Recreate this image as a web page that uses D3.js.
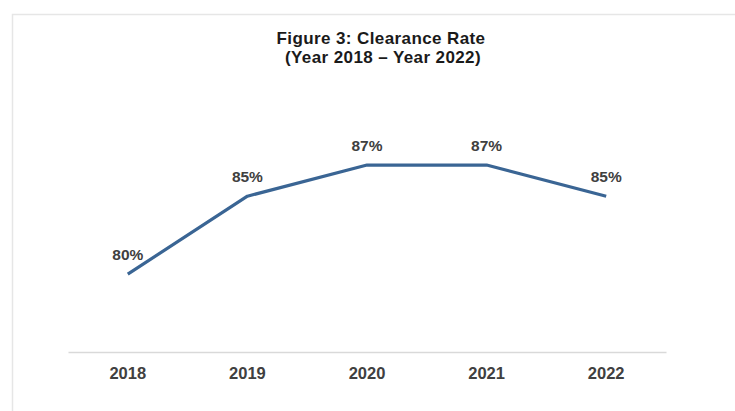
<!DOCTYPE html>
<html><head><meta charset="utf-8">
<script src="https://cdn.jsdelivr.net/npm/d3@7"></script>
<style>body{margin:0;background:#fff;} svg{display:block;font-family:"Liberation Sans",Arial,sans-serif;}</style>
</head><body>
<svg id="c" width="735" height="411"></svg>
<script>
const years = ["2018","2019","2020","2021","2022"];
const rates = [80, 85, 87, 87, 85];
const titleLines = ["Figure 3: Clearance Rate", "(Year 2018 \u2013 Year 2022)"];

const svg = d3.select("#c");
// outer frame (faint)
svg.append("path").attr("d","M12.5,411 V14.5 H735").attr("fill","none").attr("stroke","#e6e6e6").attr("stroke-width",1.5);

const x = d3.scaleBand().domain(years).range([68,666]);
const y = d3.scaleLinear().domain([75,90]).range([352,118.3]);

svg.append("text").attr("x",381).attr("y",44).attr("text-anchor","middle")
  .attr("font-size",17).attr("letter-spacing",0.4).attr("font-weight","bold").attr("fill","#1a1a1a").text(titleLines[0]);
svg.append("text").attr("x",383).attr("y",63).attr("text-anchor","middle")
  .attr("font-size",17).attr("letter-spacing",0.4).attr("font-weight","bold").attr("fill","#1a1a1a").text(titleLines[1]);

const xAxis = svg.append("g").attr("transform","translate(0,352)")
  .call(d3.axisBottom(x).tickSize(0).tickPadding(0));
xAxis.select(".domain").attr("stroke","#d9d9d9").attr("stroke-width",1.5);
xAxis.selectAll("text").attr("dy",null).attr("y",27).attr("font-size",16.5).attr("font-weight","bold")
  .attr("fill","#404040").attr("font-family","Liberation Sans, Arial, sans-serif");

const cx = d => x(d) + x.bandwidth()/2;
const line = d3.line().x((d,i)=>cx(years[i])).y(d=>y(d));
svg.append("path").datum(rates).attr("d",line).attr("fill","none")
  .attr("stroke","#3a6594").attr("stroke-width",3.2).attr("stroke-linejoin","round");

svg.selectAll(".lbl").data(rates).enter().append("text").attr("class","lbl")
  .attr("x",(d,i)=>cx(years[i])).attr("y",d=>y(d)-14).attr("text-anchor","middle")
  .attr("font-size",15.5).attr("font-weight","bold").attr("fill","#404040").text(d=>d+"%");
</script>
</body></html>
